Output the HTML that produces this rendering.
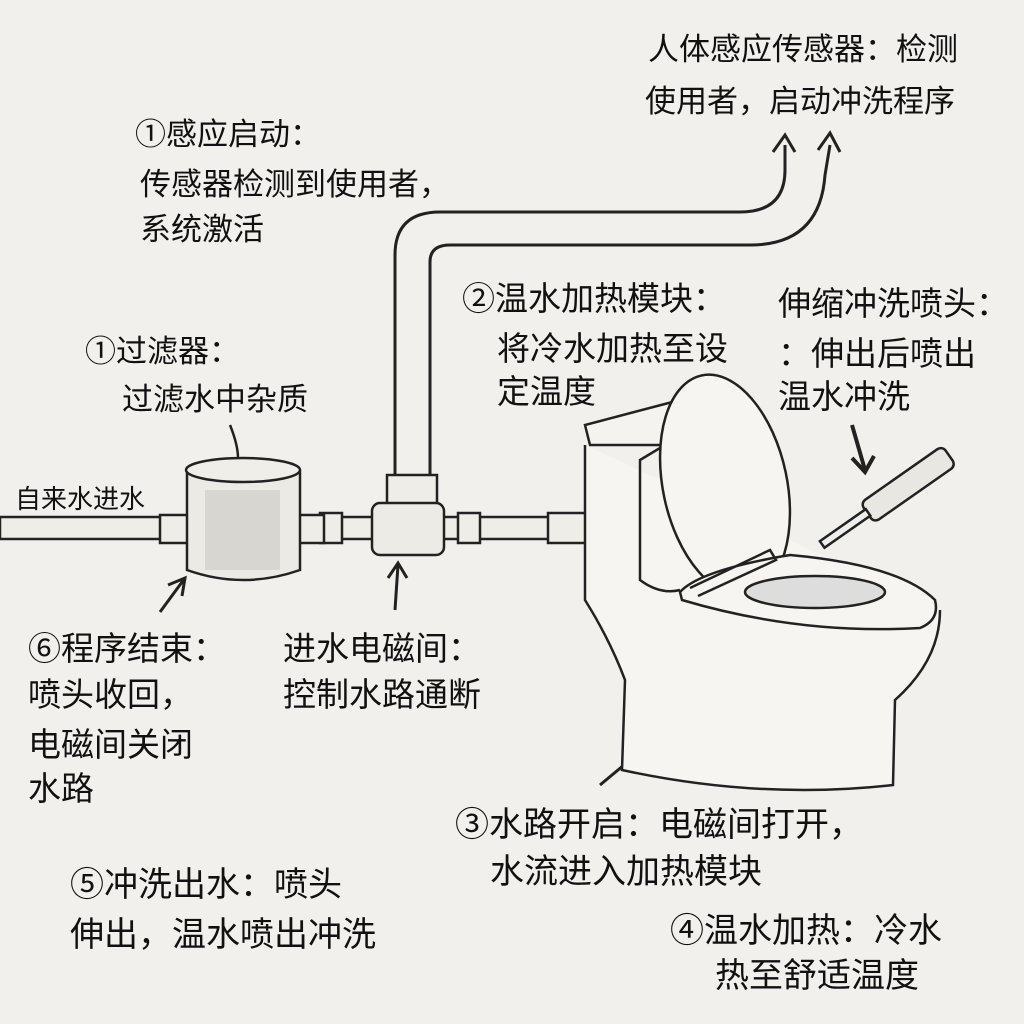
<!DOCTYPE html>
<html><head><meta charset="utf-8"><style>
html,body{margin:0;padding:0;background:#f1f0ec;}
svg{display:block}
text{font-family:"Liberation Sans","Noto Sans CJK SC",sans-serif;font-size:31px;fill:#111;}
.b{font-size:34px}
.m{font-size:33px}
</style></head><body>
<svg width="1024" height="1024" viewBox="0 0 1024 1024" xmlns="http://www.w3.org/2000/svg">
<rect width="1024" height="1024" fill="#f1f0ec"/>
<g fill="none" stroke="#222" stroke-width="2.5">
<rect x="0" y="517" width="600" height="22" fill="#eeede8"/>
<path d="M395 495 L395 255 Q395 212 440 212 L740 212 Q785 212 785 170 L785 145" fill="none" stroke-width="3"/>
<path d="M430 495 L430 262 Q430 245 450 245 L750 245 Q820 245 825 175 L830 145" stroke-width="3"/>
<path d="M773 152 L785 135 L795 152 M818 150 L830 133 L840 152" stroke-width="3"/>
<rect x="387" y="475" width="50" height="30" fill="#eeede8"/>
<rect x="372" y="503" width="72" height="52" rx="8" fill="#ecebe6"/>
<rect x="320" y="513" width="22" height="30" fill="#eeede8"/>
<rect x="458" y="513" width="22" height="30" fill="#eeede8"/>
<rect x="548" y="513" width="50" height="30" fill="#eeede8"/>
<rect x="160" y="515" width="28" height="28" fill="#eeede8"/>
<rect x="298" y="515" width="26" height="28" fill="#eeede8"/>
<path d="M187 470 L187 570 Q243 590 300 570 L300 470" fill="#eceae4"/>
<ellipse cx="243" cy="470" rx="57" ry="12" fill="#efeee9"/>
<rect x="205" y="490" width="75" height="80" fill="#d8d6d0" stroke="none"/>
<path d="M230 425 Q238 445 238 458"/>
<path d="M185 578 L160 612" stroke-width="3"/>
<path d="M168 585 L185 578 L182 596" stroke-width="3"/>
<path d="M395 610 L398 565 M388 578 L398 563 L407 578" stroke-width="3"/>
<path d="M852 425 L865 470 M852 458 L865 472 L874 456" stroke-width="4"/>
<path d="M630 760 L600 785" stroke-width="3"/>
<path d="M585 425 L590 445 L665 445 L690 420 L680 400 Z" fill="#f4f3ef"/>
<path d="M585 445 L585 600 Q610 640 625 680 L622 770 Q760 800 893 785 L895 700 Q940 660 940 610" fill="#f6f5f1"/>
<path d="M665 445 L640 460 L640 580 Q660 595 680 590"/>
<ellipse cx="725" cy="485" rx="62" ry="112" fill="#f6f5f1" transform="rotate(-12 725 485)"/>
<path d="M680 592 Q700 570 790 555 Q900 565 935 600 Q940 620 920 628 Q800 635 682 600 Z" fill="#f6f5f1"/>
<ellipse cx="815" cy="592" rx="70" ry="16" fill="#ddd"/>
<path d="M690 588 L770 550 L776 560 L698 596"/>
<g transform="rotate(-35 900 490)">
<rect x="860" y="478" width="100" height="24" rx="6" fill="#e8e7e2"/>
<rect x="805" y="486" width="56" height="8" fill="#eee"/>
</g>
</g>
<text x="648" y="60">人体感应传感器：检测</text>
<text x="645" y="112">使用者，启动冲洗程序</text>
<text x="135" y="145">①感应启动：</text>
<text x="140" y="195">传感器检测到使用者，</text>
<text x="140" y="240">系统激活</text>
<text x="462" y="310" class="m">②温水加热模块：</text>
<text x="497" y="360" class="m">将冷水加热至设</text>
<text x="497" y="403" class="m">定温度</text>
<text x="778" y="315" class="m">伸缩冲洗喷头：</text>
<text x="778" y="365" class="m">：伸出后喷出</text>
<text x="778" y="408" class="m">温水冲洗</text>
<text x="85" y="362">①过滤器：</text>
<text x="122" y="410">过滤水中杂质</text>
<text x="15" y="508" style="font-size:26px">自来水进水</text>
<text x="28" y="660" class="m">⑥程序结束：</text>
<text x="28" y="706" class="m">喷头收回，</text>
<text x="28" y="756" class="m">电磁间关闭</text>
<text x="28" y="800" class="m">水路</text>
<text x="283" y="660" class="m">进水电磁间：</text>
<text x="283" y="706" class="m">控制水路通断</text>
<text x="455" y="836" class="b">③水路开启：电磁间打开，</text>
<text x="490" y="883" class="b">水流进入加热模块</text>
<text x="70" y="896" class="b">⑤冲洗出水：喷头</text>
<text x="70" y="946" class="b">伸出，温水喷出冲洗</text>
<text x="670" y="942" class="b">④温水加热：冷水</text>
<text x="715" y="987" class="b">热至舒适温度</text>
</svg>
</body></html>
